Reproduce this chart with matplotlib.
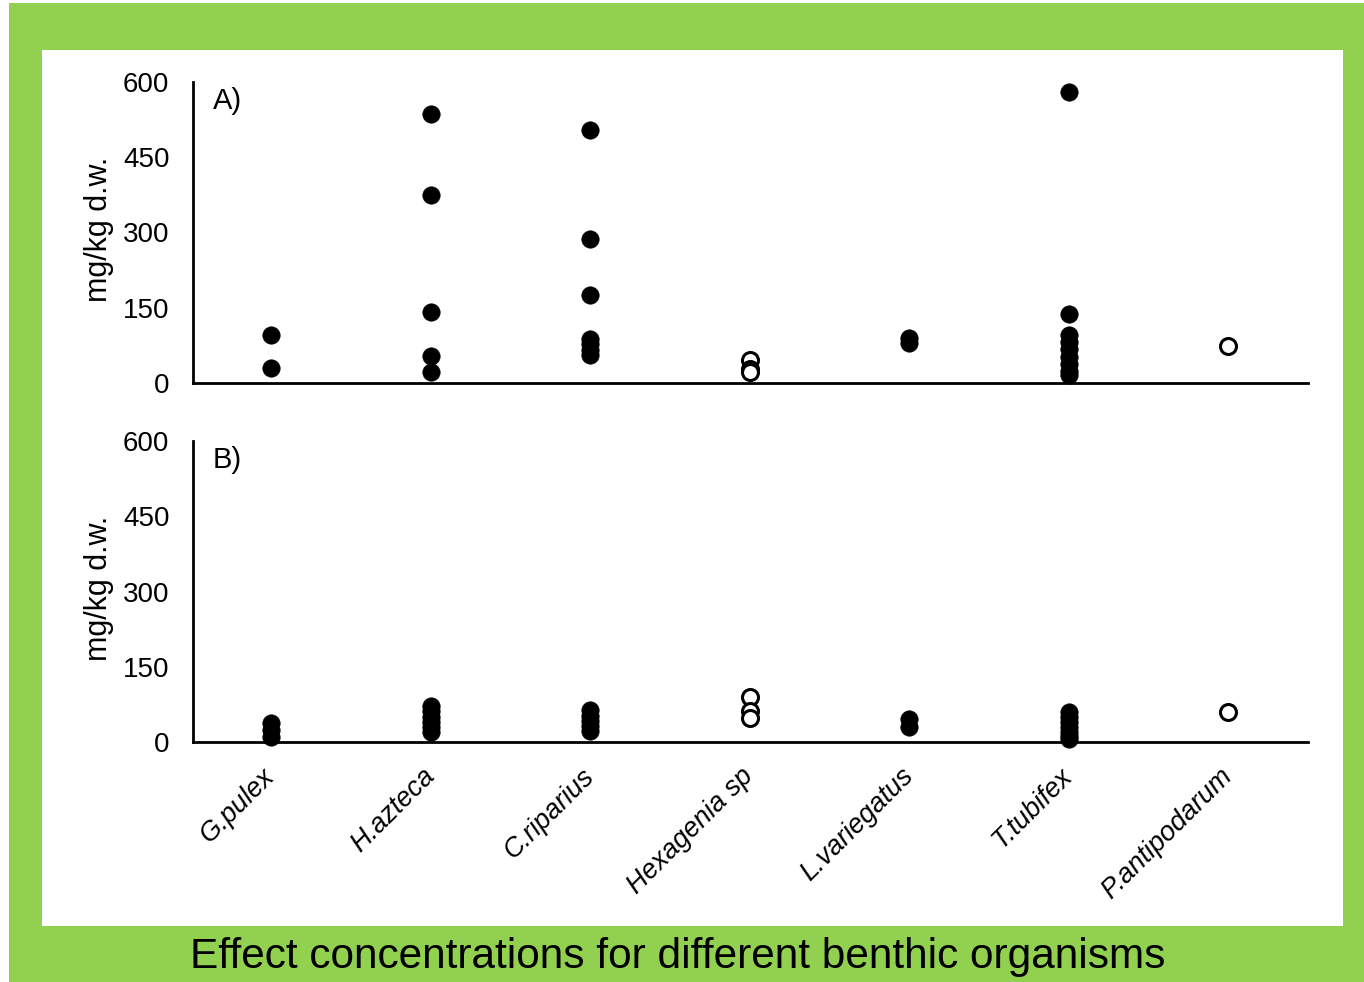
import matplotlib
matplotlib.use("Agg")
import matplotlib.pyplot as plt
from matplotlib.patches import Rectangle
from matplotlib import font_manager

categories = ['G.pulex', 'H.azteca', 'C.riparius', 'Hexagenia sp',
              'L.variegatus', 'T.tubifex', 'P.antipodarum']
open_marker = [False, False, False, True, False, False, True]

panel_a = [
    [96, 29],
    [536, 375, 141, 54, 21],
    [504, 288, 175, 88, 77, 66, 55],
    [46, 28, 22],
    [90, 80],
    [580, 137, 96, 82, 68, 52, 38, 24, 15],
    [74],
]
panel_b = [
    [38, 24, 10],
    [72, 62, 50, 40, 30, 20],
    [64, 52, 42, 32, 22],
    [90, 62, 48],
    [46, 30],
    [60, 50, 40, 30, 20, 12, 6],
    [60],
]
y_ticks = [0, 150, 300, 450, 600]
y_label = 'mg/kg d.w.'
caption = 'Effect concentrations for different benthic organisms'

installed = {f.name for f in font_manager.fontManager.ttflist}
base_font = 'Liberation Sans' if 'Liberation Sans' in installed else 'DejaVu Sans'
cap_font = 'Liberation Sans Narrow' if 'Liberation Sans Narrow' in installed else base_font
plt.rcParams['font.family'] = [base_font, 'DejaVu Sans']

W, H = 1364, 982
fig = plt.figure(figsize=(W / 100, H / 100), dpi=100)
fig.patch.set_facecolor('white')

green = '#92D050'
fig.patches.append(Rectangle((9 / W, 0), (W - 9) / W, (H - 3) / H,
                             transform=fig.transFigure, facecolor=green,
                             edgecolor='none', zorder=-3))
fig.patches.append(Rectangle((42 / W, (H - 926) / H), (1343 - 42) / W, (926 - 50) / H,
                             transform=fig.transFigure, facecolor='white',
                             edgecolor='none', zorder=-2))

left = 193 / W
width = (1308 - 193) / W
height = 301 / H
axA = fig.add_axes([left, (H - 383) / H, width, height])
axB = fig.add_axes([left, (H - 742) / H, width, height])

for ax, data, label in [(axA, panel_a, 'A)'), (axB, panel_b, 'B)')]:
    ax.set_facecolor('none')
    ax.patch.set_alpha(0)
    for i, (vals, is_open) in enumerate(zip(data, open_marker)):
        xs = [i] * len(vals)
        if is_open:
            ax.plot(xs, vals, 'o', ms=11.5, mfc='white', mec='black', mew=2.2,
                    ls='none', clip_on=False, zorder=3)
        else:
            ax.plot(xs, vals, 'o', ms=12.5, mfc='black', mec='black', mew=0.5,
                    ls='none', clip_on=False, zorder=3)
    ax.set_xlim(-0.49, 6.5)
    ax.set_ylim(0, 600)
    ax.set_yticks(y_ticks)
    ax.set_yticklabels([str(t) for t in y_ticks], fontsize=20)
    ax.tick_params(axis='y', length=0, pad=17)
    ax.tick_params(axis='x', length=0)
    for s in ['top', 'right']:
        ax.spines[s].set_visible(False)
    for s in ['left', 'bottom']:
        ax.spines[s].set_linewidth(2.0)
        ax.spines[s].set_color('black')
    ax.set_ylabel(y_label, fontsize=22)
    ax.yaxis.set_label_coords(-0.071, 0.51)
    ax.text(0.018, 0.985, label, transform=ax.transAxes, fontsize=21,
            ha='left', va='top')

axA.set_xticks(range(len(categories)))
axA.set_xticklabels([])
axB.set_xticks(range(len(categories)))
axB.set_xticklabels(categories, rotation=45, ha='right', va='center',
                    rotation_mode='anchor', fontsize=19.5, style='italic')
axB.tick_params(axis='x', pad=22)

fig.text(678 / W, 1 - 957 / H, caption, fontsize=30.5, family=[cap_font, 'DejaVu Sans'],
         ha='center', va='center', color='black')

fig.savefig('out.png', dpi=100, facecolor='white')
